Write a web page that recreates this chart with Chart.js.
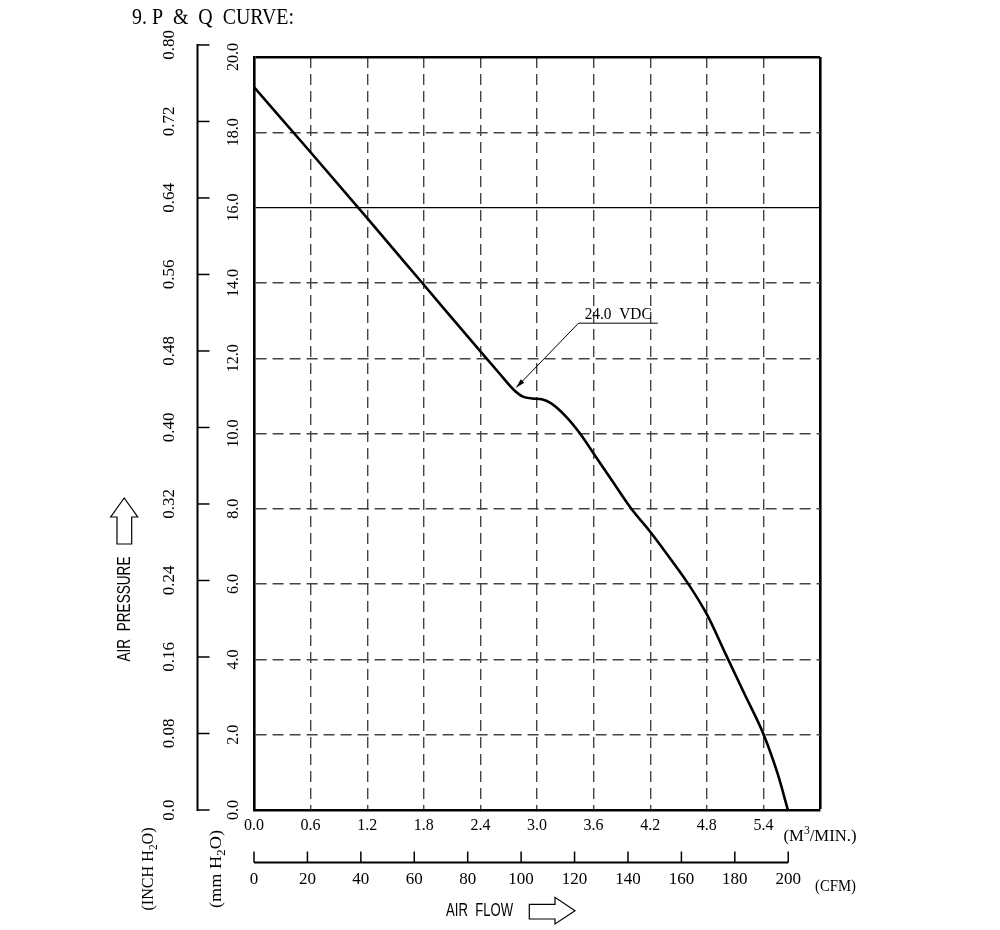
<!DOCTYPE html>
<html>
<head>
<meta charset="utf-8">
<script src="https://cdn.jsdelivr.net/npm/chart.js@4.4.1/dist/chart.umd.min.js"></script>
<style>
  html, body { margin: 0; padding: 0; background: #fff; }
  #wrap { width: 1000px; height: 930px; position: relative; }
</style>
</head>
<body>
<div id="wrap"><canvas id="pqChart"></canvas></div>
<script>
// P & Q curve, air flow in M3/MIN against static pressure in mm H2O
const flow = [0, 0.6, 1.2, 1.8, 2.4, 2.6, 2.75, 2.85, 2.95, 3.05, 3.15, 3.3, 3.45, 3.6, 3.8, 4.0, 4.2, 4.4, 4.6, 4.8, 5.0, 5.2, 5.4, 5.55, 5.66];
const pressure = [19.2, 17.47, 15.72, 13.95, 12.18, 11.6, 11.17, 10.98, 10.93, 10.91, 10.8, 10.47, 10.02, 9.47, 8.73, 8.0, 7.39, 6.72, 6.02, 5.2, 4.14, 3.08, 2.02, 0.97, 0];

// tick labels
const flowTicks = [0, 0.6, 1.2, 1.8, 2.4, 3.0, 3.6, 4.2, 4.8, 5.4, 6.0];
const mmTicks = [0, 2, 4, 6, 8, 10, 12, 14, 16, 18, 20];
const inchTicks = [0, 0.08, 0.16, 0.24, 0.32, 0.40, 0.48, 0.56, 0.64, 0.72, 0.80];
const cfmTicks = [0, 20, 40, 60, 80, 100, 120, 140, 160, 180, 200];

const curveLabel = '24.0  VDC';

const MM_PER_INCH = 25.4;
const M3MIN_PER_CFM = 0.0283168;
const SERIF = '"Liberation Serif", "DejaVu Serif", serif';
const SANS = '"Liberation Sans", Arial, sans-serif';

// text helpers: centred text, optionally rotated and squeezed to a width
function drawParts(ctx, parts, x, y, opt) {
  ctx.save();
  ctx.translate(x, y);
  if (opt.rotate) ctx.rotate(opt.rotate);
  ctx.fillStyle = '#000';
  ctx.textBaseline = 'middle';
  ctx.textAlign = 'left';
  const size = opt.size;
  let total = 0;
  const widths = parts.map(p => {
    ctx.font = (p.small ? size * 0.7 : size) + 'px ' + opt.family;
    const w = ctx.measureText(p.t).width;
    total += w;
    return w;
  });
  if (opt.width) ctx.scale(opt.width / total, 1);
  let cx = -total / 2;
  parts.forEach((p, i) => {
    ctx.font = (p.small ? size * 0.7 : size) + 'px ' + opt.family;
    let dy = 0;
    if (p.small === 'sub') dy = size * 0.3;
    if (p.small === 'sup') dy = -size * 0.35;
    ctx.fillText(p.t, cx, dy);
    cx += widths[i];
  });
  ctx.restore();
}

function drawText(ctx, str, x, y, opt) {
  drawParts(ctx, [{ t: str }], x, y, opt);
}

const pqExtras = {
  id: 'pqExtras',
  afterDraw(chart) {
    const { ctx, scales: { x, y } } = chart;
    ctx.save();
    ctx.strokeStyle = '#000';
    ctx.fillStyle = '#000';

    // INCH H2O axis, same scale as mm axis
    const axisX = 197.5;
    const inchPx = v => y.getPixelForValue(v * MM_PER_INCH);
    ctx.lineWidth = 2;
    ctx.beginPath();
    ctx.moveTo(axisX, inchPx(0) + 1);
    ctx.lineTo(axisX, inchPx(inchTicks[inchTicks.length - 1]) - 1);
    ctx.stroke();
    ctx.lineWidth = 1.5;
    inchTicks.forEach(v => {
      const py = inchPx(v);
      ctx.beginPath();
      ctx.moveTo(axisX, py);
      ctx.lineTo(axisX + 12, py);
      ctx.stroke();
      drawText(ctx, v === 0 ? '0.0' : v.toFixed(2), 170, py, { size: 17, family: SERIF, rotate: -Math.PI / 2 });
    });

    // CFM axis under the M3/MIN axis
    const cfmY = 862.5;
    const cfmPx = v => x.getPixelForValue(v * M3MIN_PER_CFM);
    ctx.lineWidth = 2;
    ctx.beginPath();
    ctx.moveTo(cfmPx(0), cfmY);
    ctx.lineTo(cfmPx(cfmTicks[cfmTicks.length - 1]), cfmY);
    ctx.stroke();
    ctx.lineWidth = 1.5;
    cfmTicks.forEach(v => {
      const px = cfmPx(v);
      ctx.beginPath();
      ctx.moveTo(px, cfmY);
      ctx.lineTo(px, cfmY - 11);
      ctx.stroke();
      drawText(ctx, String(v), px, 880, { size: 17, family: SERIF });
    });

    // curve callout
    const tip = { x: x.getPixelForValue(2.78), y: y.getPixelForValue(11.22) };
    const elbow = { x: x.getPixelForValue(3.44), y: y.getPixelForValue(12.93) };
    const lineEnd = x.getPixelForValue(4.28);
    ctx.lineWidth = 1;
    ctx.beginPath();
    ctx.moveTo(lineEnd, elbow.y);
    ctx.lineTo(elbow.x, elbow.y);
    ctx.lineTo(tip.x, tip.y);
    ctx.stroke();
    const ang = Math.atan2(tip.y - elbow.y, tip.x - elbow.x);
    ctx.beginPath();
    ctx.moveTo(tip.x, tip.y);
    ctx.lineTo(tip.x - 9 * Math.cos(ang) + 2.5 * Math.sin(ang), tip.y - 9 * Math.sin(ang) - 2.5 * Math.cos(ang));
    ctx.lineTo(tip.x - 9 * Math.cos(ang) - 2.5 * Math.sin(ang), tip.y - 9 * Math.sin(ang) + 2.5 * Math.cos(ang));
    ctx.closePath();
    ctx.fill();
    drawText(ctx, curveLabel, (elbow.x + lineEnd) / 2, elbow.y - 9, { size: 17, family: SERIF, width: 67 });

    // titles and units
    drawText(ctx, '9. P  &  Q  CURVE:', 213, 18, { size: 23, family: SERIF, width: 162 });
    drawText(ctx, 'AIR  PRESSURE', 125, 609, { size: 18, family: SANS, rotate: -Math.PI / 2, width: 105 });
    drawText(ctx, 'AIR  FLOW', 479.5, 911.5, { size: 18, family: SANS, width: 67 });
    drawParts(ctx, [{ t: '(INCH H' }, { t: '2', small: 'sub' }, { t: 'O)' }], 148.5, 869,
      { size: 17, family: SERIF, rotate: -Math.PI / 2, width: 83 });
    drawParts(ctx, [{ t: '(mm H' }, { t: '2', small: 'sub' }, { t: 'O)' }], 216.5, 869,
      { size: 17, family: SERIF, rotate: -Math.PI / 2, width: 78 });
    drawParts(ctx, [{ t: '(M' }, { t: '3', small: 'sup' }, { t: '/MIN.)' }], 820, 836.5,
      { size: 17, family: SERIF, width: 73 });
    drawText(ctx, '(CFM)', 835.5, 886.5, { size: 17, family: SERIF, width: 41 });

    // outline arrows
    ctx.lineWidth = 1.2;
    ctx.beginPath();
    ctx.moveTo(124.2, 498);
    ctx.lineTo(110.7, 517);
    ctx.lineTo(117, 517);
    ctx.lineTo(117, 544);
    ctx.lineTo(131.7, 544);
    ctx.lineTo(131.7, 517);
    ctx.lineTo(137.7, 517);
    ctx.closePath();
    ctx.stroke();
    ctx.beginPath();
    ctx.moveTo(529.3, 904.3);
    ctx.lineTo(555, 904.3);
    ctx.lineTo(555, 897.3);
    ctx.lineTo(575, 910.7);
    ctx.lineTo(555, 924);
    ctx.lineTo(555, 919);
    ctx.lineTo(529.3, 919);
    ctx.closePath();
    ctx.stroke();
    ctx.restore();
  }
};

const solidY = v => v === 20 || v === 16;
const solidX = v => v >= 6;

const ctx = document.getElementById('pqChart').getContext('2d');
new Chart(ctx, {
  type: 'line',
  data: {
    datasets: [{
      label: '24.0 VDC',
      data: flow.map((f, i) => ({ x: f, y: pressure[i] })),
      borderColor: '#000',
      borderWidth: 2.6,
      pointRadius: 0,
      fill: false,
      cubicInterpolationMode: 'monotone'
    }]
  },
  options: {
    responsive: true,
    maintainAspectRatio: false,
    animation: false,
    layout: { padding: { left: 194, right: 180, top: 57, bottom: 90 } },
    plugins: {
      legend: { display: false },
      tooltip: { enabled: false }
    },
    scales: {
      x: {
        type: 'linear',
        min: 0,
        max: 6,
        afterBuildTicks: s => { s.ticks = flowTicks.map(v => ({ value: v })); },
        afterFit: s => { s.height = 30; },
        ticks: {
          autoSkip: false,
          maxRotation: 0,
          padding: 6,
          color: '#000',
          font: { family: SERIF, size: 16 },
          callback: v => solidX(v) ? '' : v.toFixed(1)
        },
        grid: {
          drawTicks: false,
          color: c => solidX(c.tick.value) ? '#000' : '#444',
          lineWidth: c => solidX(c.tick.value) ? 2.6 : 1.4
        },
        border: {
          color: '#000',
          width: 2.6,
          dash: c => (c.type === 'tick' && !solidX(c.tick.value)) ? [11, 6] : []
        }
      },
      y: {
        type: 'linear',
        min: 0,
        max: 20,
        afterBuildTicks: s => { s.ticks = mmTicks.map(v => ({ value: v })); },
        afterFit: s => { s.width = 60; },
        ticks: {
          autoSkip: false,
          minRotation: 90,
          maxRotation: 90,
          crossAlign: 'center',
          padding: 6,
          color: '#000',
          font: { family: SERIF, size: 16 },
          callback: v => v.toFixed(1)
        },
        grid: {
          drawTicks: false,
          color: c => solidY(c.tick.value) ? '#000' : '#444',
          lineWidth: c => c.tick.value === 20 ? 2.6 : (c.tick.value === 16 ? 1.2 : 1.4)
        },
        border: {
          color: '#000',
          width: 2.6,
          dash: c => (c.type === 'tick' && !solidY(c.tick.value)) ? [11, 6] : []
        }
      }
    }
  },
  plugins: [pqExtras]
});
</script>
</body>
</html>
